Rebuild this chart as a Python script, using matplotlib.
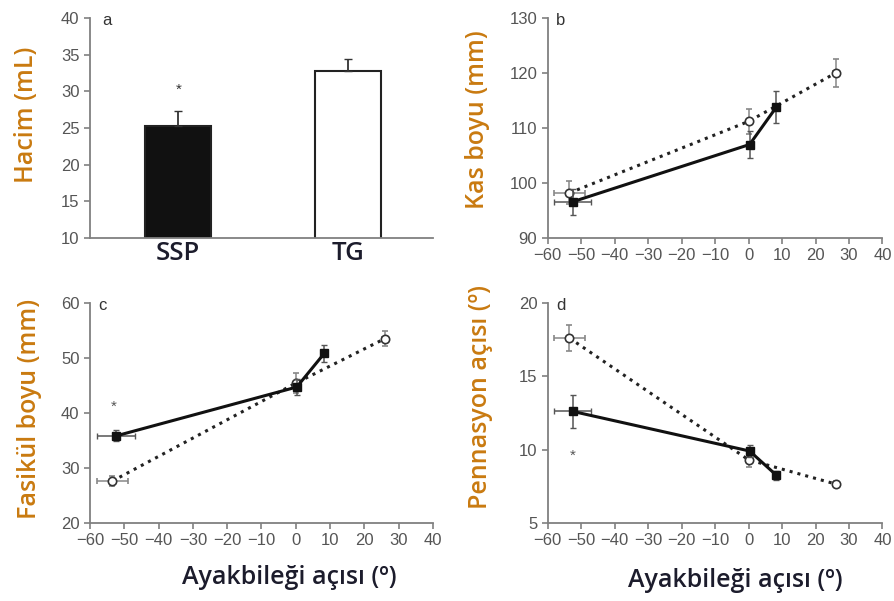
import matplotlib
matplotlib.use("Agg")
import matplotlib.pyplot as plt

# panel a: volume
groups = ["SSP", "TG"]
volume = [25.3, 32.8]
volume_err = [2.0, 1.6]

# panels b-d: ankle angle vs. muscle measures
# filled squares / solid line (SSP), open circles / dotted line (TG)
ssp_angle = [-52.5, 0.3, 8.3]
ssp_angle_err = [5.5, 0.5, 0.5]
tg_angle = [-53.5, 0.0, 26.0]
tg_angle_err = [4.5, 0.5, 0.8]

ssp_muscle = [96.6, 107.0, 113.8]
ssp_muscle_err = [2.4, 2.4, 2.9]
tg_muscle = [98.2, 111.2, 120.0]
tg_muscle_err = [2.1, 2.2, 2.5]

ssp_fascicle = [35.8, 44.7, 50.8]
ssp_fascicle_err = [1.0, 1.5, 1.5]
tg_fascicle = [27.6, 45.4, 53.5]
tg_fascicle_err = [0.9, 1.8, 1.3]

ssp_pennation = [12.6, 9.9, 8.25]
ssp_pennation_err = [1.1, 0.4, 0.3]
tg_pennation = [17.6, 9.3, 7.65]
tg_pennation_err = [0.9, 0.5, 0.2]

label_color = "#c97a10"
dark = "#1c1c2c"
spine_color = "#808080"
tick_color = "#555555"
label_font = ["Open Sans", "DejaVu Sans"]

plt.rcParams["font.family"] = ["Liberation Sans", "DejaVu Sans"]

fig = plt.figure(figsize=(8.95, 6.01), dpi=100)
ax_a = fig.add_axes([0.1006, 0.604, 0.383, 0.366])
ax_b = fig.add_axes([0.612, 0.604, 0.374, 0.366])
ax_c = fig.add_axes([0.1006, 0.130, 0.383, 0.366])
ax_d = fig.add_axes([0.612, 0.130, 0.374, 0.366])


def style(ax):
    for s in ["top", "right"]:
        ax.spines[s].set_visible(False)
    for s in ["left", "bottom"]:
        ax.spines[s].set_color(spine_color)
        ax.spines[s].set_linewidth(1.3)
    ax.tick_params(colors=spine_color, labelcolor=tick_color, labelsize=12,
                   length=4, width=1.2, direction="out")


def ylab(ax, text, x, y):
    ax.set_ylabel(text, family=label_font, fontsize=18,
                  fontweight="semibold", color=label_color)
    ax.yaxis.set_label_coords(x, y)


def xlab(ax, text, x, y):
    ax.set_xlabel(text, family=label_font, fontsize=18,
                  fontweight="semibold", color=dark)
    ax.xaxis.set_label_coords(x, y)


# panel a
style(ax_a)
pos = list(range(len(groups)))
ax_a.bar(pos, volume, width=0.39, color=["#111111", "white"],
         edgecolor="#222222", linewidth=1.5, zorder=2)
ax_a.errorbar(pos, volume, yerr=[[0, 0], volume_err], fmt="none",
              ecolor="#333333", elinewidth=1.3, capsize=3, zorder=3)
ax_a.text(0, 30.2, "*", ha="center", va="center", fontsize=11, color="#333333")
ax_a.set_xlim(-0.52, 1.5)
ax_a.set_ylim(10, 40)
ax_a.set_yticks(range(10, 41, 5))
ax_a.set_xticks(pos)
ax_a.set_xticklabels(groups, family=label_font, fontsize=18.5,
                     fontweight="semibold", color=dark)
ax_a.tick_params(axis="x", length=0, pad=2)
ax_a.text(0.035, 0.99, "a", transform=ax_a.transAxes, fontsize=12, color="#333333",
          va="center")
ylab(ax_a, "Hacim (mL)", -0.15, 0.56)


def line_panel(ax, ys, yerr, ty, tyerr, ylim, yticks, letter):
    style(ax)
    ax.errorbar(tg_angle, ty, xerr=tg_angle_err, yerr=tyerr, fmt="o", ms=6,
                mfc="white", mec="#333333", mew=1.2, ecolor="#888888",
                elinewidth=1.1, capsize=2.5, zorder=3)
    ax.plot(tg_angle, ty, ":", color="#222222", lw=2.2, zorder=2)
    ax.errorbar(ssp_angle, ys, xerr=ssp_angle_err, yerr=yerr, fmt="s", ms=6,
                mfc="#111111", mec="#111111", ecolor="#555555",
                elinewidth=1.1, capsize=2.5, zorder=4)
    ax.plot(ssp_angle, ys, "-", color="#111111", lw=2.2, zorder=4)
    ax.set_xlim(-60, 40)
    ax.set_xticks(range(-60, 41, 10))
    ax.set_xticklabels([str(v).replace("-", "\u2212") for v in range(-60, 41, 10)])
    ax.tick_params(axis="x", pad=3)
    ax.set_ylim(*ylim)
    ax.set_yticks(yticks)
    ax.text(0.025, 0.99, letter, transform=ax.transAxes, fontsize=12,
            color="#333333", va="center")


line_panel(ax_b, ssp_muscle, ssp_muscle_err, tg_muscle, tg_muscle_err,
           (90, 130), range(90, 131, 10), "b")
ylab(ax_b, "Kas boyu (mm)", -0.173, 0.536)

line_panel(ax_c, ssp_fascicle, ssp_fascicle_err, tg_fascicle, tg_fascicle_err,
           (20, 60), range(20, 61, 10), "c")
ax_c.text(-53, 41.2, "*", ha="center", va="center", fontsize=11, color="#555555")
ylab(ax_c, "Fasikül boyu (mm)", -0.14, 0.52)
xlab(ax_c, "Ayakbileği açısı (º)", 0.58, -0.19)

line_panel(ax_d, ssp_pennation, ssp_pennation_err, tg_pennation, tg_pennation_err,
           (5, 20), range(5, 21, 5), "d")
ax_d.text(-52.5, 9.6, "*", ha="center", va="center", fontsize=11, color="#555555")
ylab(ax_d, "Pennasyon açısı (º)", -0.164, 0.57)
xlab(ax_d, "Ayakbileği açısı (º)", 0.56, -0.205)

fig.savefig("out.png", dpi=100)
